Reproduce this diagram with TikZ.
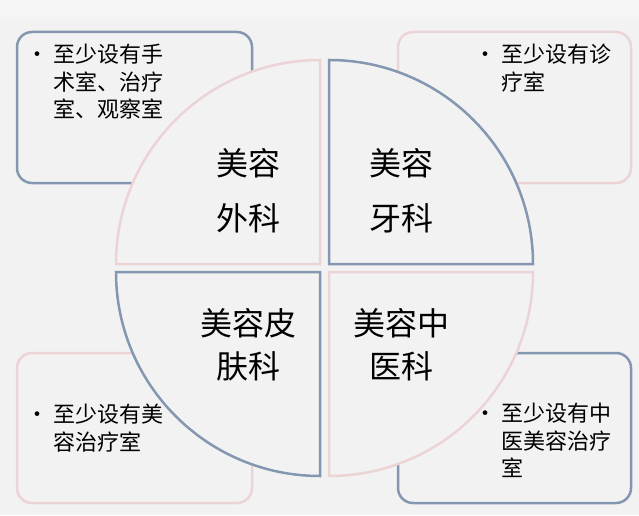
\documentclass[tikz,border=0pt]{standalone}
\usepackage{fontspec}
\newfontfamily\cjk{Noto Sans CJK SC}
\definecolor{bgc}{HTML}{F2F2F2}
\definecolor{bgtop}{HTML}{F5F5F5}
\definecolor{bluegray}{HTML}{8497B0}
\definecolor{pinkc}{HTML}{ECD3D6}
\tikzset{
  boxframe/.style={line width=2.5pt, rounded corners=15pt, fill=bgc},
  quad/.style={line width=2.5pt, fill=bgc, line join=miter},
  boxtext/.style={font=\cjk\fontsize{22}{27.5}\selectfont, anchor=north west, inner sep=0pt, align=left},
  labeltext/.style={font=\cjk\fontsize{32}{55}\selectfont, align=center, inner sep=0pt},
  labeltextb/.style={font=\cjk\fontsize{32}{43}\selectfont, align=center, inner sep=0pt}
}
\begin{document}
\begin{tikzpicture}[x=1pt,y=1pt]
\fill[bgc] (0,0) rectangle (639,515);
\fill[bgtop] (0,495) rectangle (639,515);
\useasboundingbox (0,0) rectangle (639,515);
% corner boxes
\draw[boxframe, draw=bluegray] (17,332) rectangle (252,483);
\draw[boxframe, draw=pinkc] (398,332) rectangle (631,483);
\draw[boxframe, draw=pinkc] (17,12) rectangle (252,162);
\draw[boxframe, draw=bluegray] (398,12) rectangle (631,162);
% box texts
\node[boxtext] (t1) at (26,471) {\textbullet\hspace{5pt}\parbox[t]{140pt}{至少设有手\\术室、治疗\\室、观察室}};
\node[boxtext] (t2) at (474,471) {\textbullet\hspace{5pt}\parbox[t]{140pt}{至少设有诊\\疗室}};
\node[boxtext] (t3) at (26,111) {\textbullet\hspace{5pt}\parbox[t]{140pt}{至少设有美\\容治疗室}};
\node[boxtext] (t4) at (474,112) {\textbullet\hspace{5pt}\parbox[t]{140pt}{至少设有中\\医美容治疗\\室}};
% quadrants
\draw[quad, draw=pinkc] (320,251) -- (116,251) arc[start angle=180, end angle=90, radius=204] -- cycle;
\draw[quad, draw=bluegray] (329,251) -- (329,455) arc[start angle=90, end angle=0, radius=204] -- cycle;
\draw[quad, draw=bluegray] (320,243) -- (320,39) arc[start angle=270, end angle=180, radius=204] -- cycle;
\draw[quad, draw=pinkc] (329,243) -- (533,243) arc[start angle=0, end angle=-90, radius=204] -- cycle;
% labels
\node[labeltext] (q1) at (248,324) {美容\\外科};
\node[labeltext] (q2) at (401,324) {美容\\牙科};
\node[labeltextb] (q3) at (248,170) {美容皮\\肤科};
\node[labeltextb] (q4) at (401,170) {美容中\\医科};
\end{tikzpicture}
\end{document}
